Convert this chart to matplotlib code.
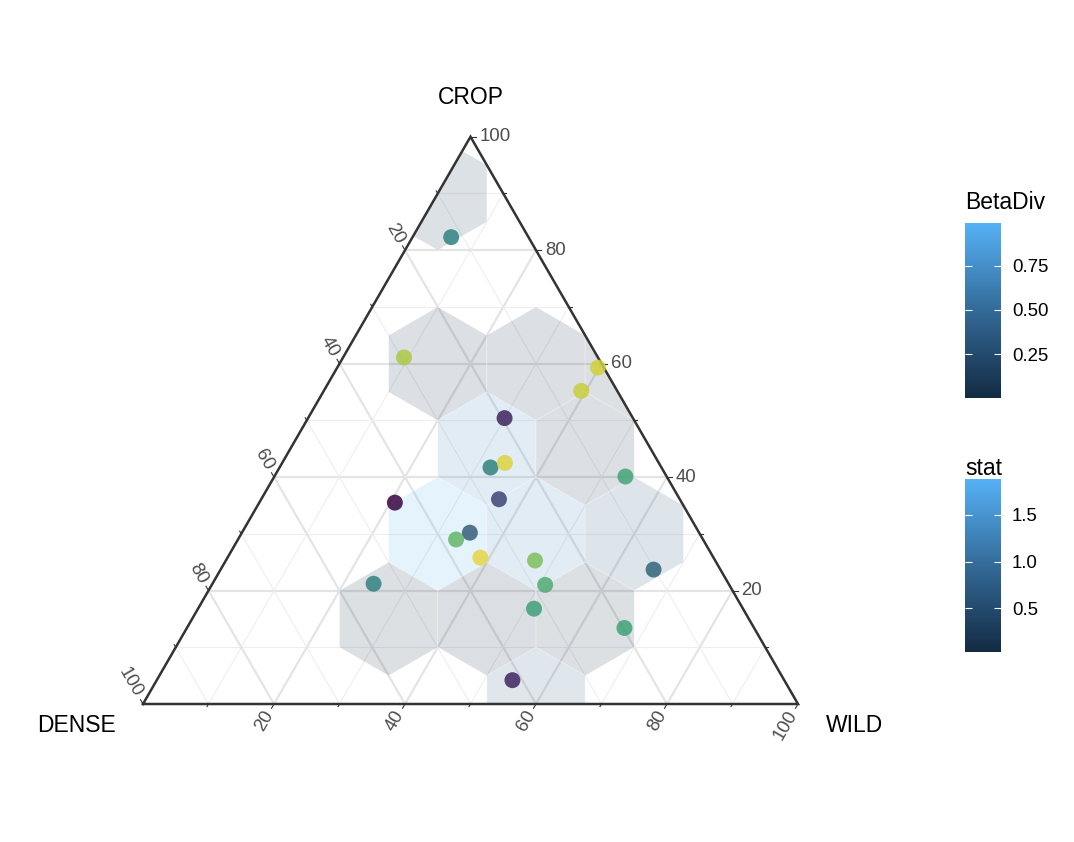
import numpy as np
import matplotlib as mpl
import matplotlib.pyplot as plt
from matplotlib.colors import LinearSegmentedColormap, Normalize
from matplotlib.collections import PolyCollection
from matplotlib.patches import Polygon

plt.rcParams['font.family'] = ['Liberation Sans', 'DejaVu Sans']

# sample compositions (percent) and their beta diversity
crop = [82.3, 61.1, 59.3, 55.2, 50.4, 41.7, 42.5, 36.1, 35.5, 30.2,
        29.0, 25.8, 25.3, 21.0, 21.2, 16.8, 40.1, 23.7, 13.4, 4.2]
wild = [5.9, 9.3, 39.8, 39.3, 30.0, 32.2, 34.0, 36.3, 20.7, 34.8,
        33.3, 38.6, 47.2, 50.9, 24.6, 51.3, 53.6, 66.1, 66.8, 54.3]
dense = [100 - c - w for c, w in zip(crop, wild)]
beta_div = [0.50, 0.88, 0.95, 0.93, 0.10, 0.50, 0.97, 0.22, 0.003, 0.33,
            0.74, 0.99, 0.80, 0.70, 0.50, 0.64, 0.66, 0.36, 0.65, 0.10]

# hex bins (centre composition) and their stat
hex_crop = [90, 60, 60, 60, 45, 45, 30, 30, 30, 15, 15, 15, 0]
hex_wild = [0, 15, 30, 45, 30, 45, 30, 45, 60, 30, 45, 60, 60]
hex_stat = [0.25, 0.05, 0.06, 0.10, 1.30, 0.15, 1.885, 1.25, 0.60, 0.10, 0.034, 0.10, 0.80]
binwidth = 15

major_ticks = [20, 40, 60, 80, 100]
minor_ticks = [10, 30, 50, 70, 90]

S3 = np.sqrt(3) / 2


def to_xy(c, w, d=None):
    c = np.asarray(c, float)
    w = np.asarray(w, float)
    if d is not None:
        tot = c + w + np.asarray(d, float)
        c, w = c / tot * 100, w / tot * 100
    return w + c / 2, c * S3


# pixel layout
PX, X0, Y0 = 6.55, 143, 704
W_PX, H_PX = 1074, 842

fig = plt.figure(figsize=(W_PX / 100, H_PX / 100), dpi=100)
ax = fig.add_axes([0, 0, 1, 1])
ax.set_xlim(-X0 / PX, (W_PX - X0) / PX)
ax.set_ylim((Y0 - H_PX) / PX, Y0 / PX)
ax.axis('off')

# grid
for v in range(10, 100, 10):
    major = v % 20 == 0
    col = '#e4e4e4' if major else '#eeeeee'
    lw = 1.6 if major else 0.8
    segs = [((v, 0), (v, 100 - v)),       # constant CROP
            ((0, v), (100 - v, v)),       # constant WILD
            ((100 - v, 0), (0, 100 - v))]  # constant DENSE
    for (c1, w1), (c2, w2) in segs:
        x, y = to_xy([c1, c2], [w1, w2])
        ax.plot(x, y, color=col, lw=lw, zorder=1, solid_capstyle='butt')

# hexagons
blue = LinearSegmentedColormap.from_list('gg', ['#132B43', '#336A98', '#56B1F7'])
snorm = Normalize(min(hex_stat), max(hex_stat))
hx, hy = to_xy(hex_crop, hex_wild)
r = binwidth / 2 / np.cos(np.pi / 6)
ang = np.deg2rad([30, 90, 150, 210, 270, 330])
verts = [np.column_stack([cx + r * np.cos(ang), cy + r * np.sin(ang)]) for cx, cy in zip(hx, hy)]
fills = blue(snorm(hex_stat))
fills[:, 3] = 0.15
tri_x, tri_y = to_xy([0, 0, 100], [0, 100, 0])
tri = Polygon(np.column_stack([tri_x, tri_y]), closed=True, transform=ax.transData)
hexes = PolyCollection(verts, facecolors=fills, edgecolors=(1, 1, 1, 0.5), linewidths=0.4, zorder=2)
ax.add_collection(hexes)
hexes.set_clip_path(tri)

# triangle edges
ax.plot(np.append(tri_x, tri_x[0]), np.append(tri_y, tri_y[0]), color='#333333', lw=1.8,
        solid_joinstyle='miter', zorder=4)

# ticks and labels
tick_col = '#4D4D4D'
off = 9 / PX
axes_def = {
    'crop': (lambda v: (v, 100 - v), (1.0, 0.0), dict(rotation=0, ha='left', va='center')),
    'wild': (lambda v: (0, v), (-0.5, -S3), dict(rotation=60, ha='right', va='center')),
    'dense': (lambda v: (100 - v, 0), (-0.5, S3), dict(rotation=-60, ha='right', va='center')),
}
for name, (pos, (dx, dy), kw) in axes_def.items():
    for v in major_ticks + minor_ticks:
        c, w = pos(v)
        x, y = to_xy(c, w)
        ln = (5 if v in major_ticks else 3) / PX
        ax.plot([x, x + dx * ln], [y, y + dy * ln], color='#333333', lw=0.8, zorder=4)
        if v in major_ticks:
            ax.text(x + dx * off, y + dy * off, str(v), fontsize=13.4, color=tick_col,
                    rotation_mode='anchor', **kw)

ax.text(50, (Y0 - 97) / PX, 'CROP', fontsize=16.5, ha='center', va='center')
ax.text((116 - X0) / PX, (Y0 - 725) / PX, 'DENSE', fontsize=16.5, ha='right', va='center')
ax.text((826 - X0) / PX, (Y0 - 725) / PX, 'WILD', fontsize=16.5, ha='left', va='center')

# points (viridis, slightly muted as in the original render)
px, py = to_xy(crop, wild, dense)
pcol = plt.get_cmap('viridis')(Normalize(min(beta_div), max(beta_div))(beta_div))
lum = pcol[:, :3] @ np.array([0.2126, 0.7152, 0.0722])
pcol[:, :3] = (0.8 * pcol[:, :3] + 0.2 * lum[:, None]) * 0.93
ax.scatter(px, py, color=pcol, s=132, alpha=0.85, edgecolors='none', zorder=5)


# legends
def add_bar(y_top, y_bot, vmin, vmax, ticks, labels, title, title_base):
    cax = fig.add_axes([965 / W_PX, 1 - y_bot / H_PX, 36 / W_PX, (y_bot - y_top) / H_PX])
    cb = fig.colorbar(mpl.cm.ScalarMappable(norm=Normalize(vmin, vmax), cmap=blue), cax=cax)
    cb.outline.set_visible(False)
    cb.minorticks_off()
    cb.set_ticks(ticks)
    cb.set_ticklabels(labels)
    cax.tick_params(axis='y', direction='in', length=5.2, width=0.8, color='white',
                    left=True, right=True, labelleft=False, labelright=True,
                    labelsize=13.4, pad=8)
    fig.text(965 / W_PX, 1 - title_base / H_PX, title, fontsize=16.5, ha='left', va='baseline')


add_bar(223.3, 397.7, min(beta_div), max(beta_div), [0.25, 0.5, 0.75], ['0.25', '0.50', '0.75'],
        'BetaDiv', 209)
add_bar(479, 651.7, min(hex_stat), max(hex_stat), [0.5, 1.0, 1.5], ['0.5', '1.0', '1.5'],
        'stat', 475)

fig.savefig('out.png', dpi=100)
